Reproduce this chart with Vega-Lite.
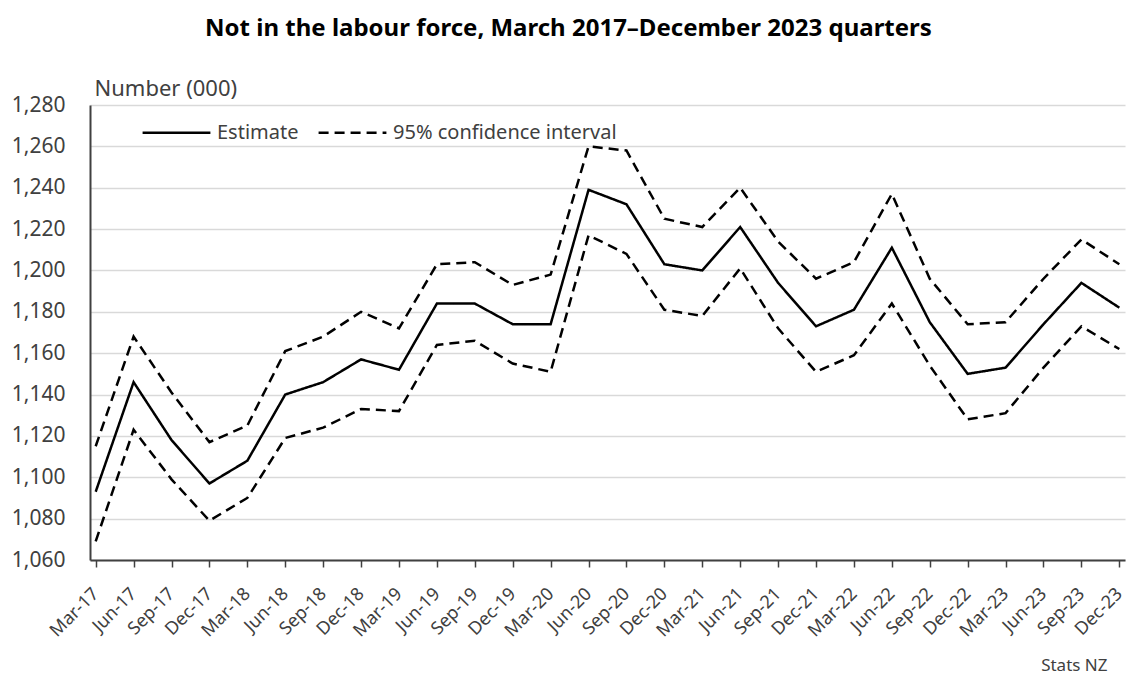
{
  "$schema": "https://vega.github.io/schema/vega-lite/v6.json",
  "autosize": "none",
  "width": 1035,
  "height": 455,
  "padding": {"left": 90, "top": 105, "right": 3, "bottom": 115},
  "background": "white",
  "config": {
    "font": "Noto Sans",
    "view": {"stroke": null}
  },
  "title": {
    "text": "Not in the labour force, March 2017\u2013December 2023 quarters",
    "font": "Noto Sans",
    "fontSize": 24,
    "fontWeight": "bold",
    "color": "#000000",
    "anchor": "middle",
    "frame": "bounds",
    "offset": 36
  },
  "data": {
    "values": [
      {"q": "Mar-17", "s": "Estimate", "t": "Estimate", "v": 1093},
      {"q": "Mar-17", "s": "Upper", "t": "95% confidence interval", "v": 1115},
      {"q": "Mar-17", "s": "Lower", "t": "95% confidence interval", "v": 1069},
      {"q": "Jun-17", "s": "Estimate", "t": "Estimate", "v": 1146},
      {"q": "Jun-17", "s": "Upper", "t": "95% confidence interval", "v": 1168},
      {"q": "Jun-17", "s": "Lower", "t": "95% confidence interval", "v": 1123},
      {"q": "Sep-17", "s": "Estimate", "t": "Estimate", "v": 1118},
      {"q": "Sep-17", "s": "Upper", "t": "95% confidence interval", "v": 1141},
      {"q": "Sep-17", "s": "Lower", "t": "95% confidence interval", "v": 1099},
      {"q": "Dec-17", "s": "Estimate", "t": "Estimate", "v": 1097},
      {"q": "Dec-17", "s": "Upper", "t": "95% confidence interval", "v": 1117},
      {"q": "Dec-17", "s": "Lower", "t": "95% confidence interval", "v": 1079},
      {"q": "Mar-18", "s": "Estimate", "t": "Estimate", "v": 1108},
      {"q": "Mar-18", "s": "Upper", "t": "95% confidence interval", "v": 1125},
      {"q": "Mar-18", "s": "Lower", "t": "95% confidence interval", "v": 1090},
      {"q": "Jun-18", "s": "Estimate", "t": "Estimate", "v": 1140},
      {"q": "Jun-18", "s": "Upper", "t": "95% confidence interval", "v": 1161},
      {"q": "Jun-18", "s": "Lower", "t": "95% confidence interval", "v": 1119},
      {"q": "Sep-18", "s": "Estimate", "t": "Estimate", "v": 1146},
      {"q": "Sep-18", "s": "Upper", "t": "95% confidence interval", "v": 1168},
      {"q": "Sep-18", "s": "Lower", "t": "95% confidence interval", "v": 1124},
      {"q": "Dec-18", "s": "Estimate", "t": "Estimate", "v": 1157},
      {"q": "Dec-18", "s": "Upper", "t": "95% confidence interval", "v": 1180},
      {"q": "Dec-18", "s": "Lower", "t": "95% confidence interval", "v": 1133},
      {"q": "Mar-19", "s": "Estimate", "t": "Estimate", "v": 1152},
      {"q": "Mar-19", "s": "Upper", "t": "95% confidence interval", "v": 1172},
      {"q": "Mar-19", "s": "Lower", "t": "95% confidence interval", "v": 1132},
      {"q": "Jun-19", "s": "Estimate", "t": "Estimate", "v": 1184},
      {"q": "Jun-19", "s": "Upper", "t": "95% confidence interval", "v": 1203},
      {"q": "Jun-19", "s": "Lower", "t": "95% confidence interval", "v": 1164},
      {"q": "Sep-19", "s": "Estimate", "t": "Estimate", "v": 1184},
      {"q": "Sep-19", "s": "Upper", "t": "95% confidence interval", "v": 1204},
      {"q": "Sep-19", "s": "Lower", "t": "95% confidence interval", "v": 1166},
      {"q": "Dec-19", "s": "Estimate", "t": "Estimate", "v": 1174},
      {"q": "Dec-19", "s": "Upper", "t": "95% confidence interval", "v": 1193},
      {"q": "Dec-19", "s": "Lower", "t": "95% confidence interval", "v": 1155},
      {"q": "Mar-20", "s": "Estimate", "t": "Estimate", "v": 1174},
      {"q": "Mar-20", "s": "Upper", "t": "95% confidence interval", "v": 1198},
      {"q": "Mar-20", "s": "Lower", "t": "95% confidence interval", "v": 1151},
      {"q": "Jun-20", "s": "Estimate", "t": "Estimate", "v": 1239},
      {"q": "Jun-20", "s": "Upper", "t": "95% confidence interval", "v": 1260},
      {"q": "Jun-20", "s": "Lower", "t": "95% confidence interval", "v": 1217},
      {"q": "Sep-20", "s": "Estimate", "t": "Estimate", "v": 1232},
      {"q": "Sep-20", "s": "Upper", "t": "95% confidence interval", "v": 1258},
      {"q": "Sep-20", "s": "Lower", "t": "95% confidence interval", "v": 1208},
      {"q": "Dec-20", "s": "Estimate", "t": "Estimate", "v": 1203},
      {"q": "Dec-20", "s": "Upper", "t": "95% confidence interval", "v": 1225},
      {"q": "Dec-20", "s": "Lower", "t": "95% confidence interval", "v": 1181},
      {"q": "Mar-21", "s": "Estimate", "t": "Estimate", "v": 1200},
      {"q": "Mar-21", "s": "Upper", "t": "95% confidence interval", "v": 1221},
      {"q": "Mar-21", "s": "Lower", "t": "95% confidence interval", "v": 1178},
      {"q": "Jun-21", "s": "Estimate", "t": "Estimate", "v": 1221},
      {"q": "Jun-21", "s": "Upper", "t": "95% confidence interval", "v": 1240},
      {"q": "Jun-21", "s": "Lower", "t": "95% confidence interval", "v": 1201},
      {"q": "Sep-21", "s": "Estimate", "t": "Estimate", "v": 1194},
      {"q": "Sep-21", "s": "Upper", "t": "95% confidence interval", "v": 1214},
      {"q": "Sep-21", "s": "Lower", "t": "95% confidence interval", "v": 1172},
      {"q": "Dec-21", "s": "Estimate", "t": "Estimate", "v": 1173},
      {"q": "Dec-21", "s": "Upper", "t": "95% confidence interval", "v": 1196},
      {"q": "Dec-21", "s": "Lower", "t": "95% confidence interval", "v": 1151},
      {"q": "Mar-22", "s": "Estimate", "t": "Estimate", "v": 1181},
      {"q": "Mar-22", "s": "Upper", "t": "95% confidence interval", "v": 1204},
      {"q": "Mar-22", "s": "Lower", "t": "95% confidence interval", "v": 1159},
      {"q": "Jun-22", "s": "Estimate", "t": "Estimate", "v": 1211},
      {"q": "Jun-22", "s": "Upper", "t": "95% confidence interval", "v": 1237},
      {"q": "Jun-22", "s": "Lower", "t": "95% confidence interval", "v": 1184},
      {"q": "Sep-22", "s": "Estimate", "t": "Estimate", "v": 1175},
      {"q": "Sep-22", "s": "Upper", "t": "95% confidence interval", "v": 1196},
      {"q": "Sep-22", "s": "Lower", "t": "95% confidence interval", "v": 1154},
      {"q": "Dec-22", "s": "Estimate", "t": "Estimate", "v": 1150},
      {"q": "Dec-22", "s": "Upper", "t": "95% confidence interval", "v": 1174},
      {"q": "Dec-22", "s": "Lower", "t": "95% confidence interval", "v": 1128},
      {"q": "Mar-23", "s": "Estimate", "t": "Estimate", "v": 1153},
      {"q": "Mar-23", "s": "Upper", "t": "95% confidence interval", "v": 1175},
      {"q": "Mar-23", "s": "Lower", "t": "95% confidence interval", "v": 1131},
      {"q": "Jun-23", "s": "Estimate", "t": "Estimate", "v": 1174},
      {"q": "Jun-23", "s": "Upper", "t": "95% confidence interval", "v": 1196},
      {"q": "Jun-23", "s": "Lower", "t": "95% confidence interval", "v": 1153},
      {"q": "Sep-23", "s": "Estimate", "t": "Estimate", "v": 1194},
      {"q": "Sep-23", "s": "Upper", "t": "95% confidence interval", "v": 1215},
      {"q": "Sep-23", "s": "Lower", "t": "95% confidence interval", "v": 1173},
      {"q": "Dec-23", "s": "Estimate", "t": "Estimate", "v": 1182},
      {"q": "Dec-23", "s": "Upper", "t": "95% confidence interval", "v": 1203},
      {"q": "Dec-23", "s": "Lower", "t": "95% confidence interval", "v": 1162}
    ]
  },
  "mark": {"type": "line", "color": "#000000", "strokeWidth": 2.5, "strokeJoin": "miter"},
  "encoding": {
    "x": {
      "field": "q",
      "type": "ordinal",
      "sort": null,
      "scale": {"type": "point", "padding": 0.15},
      "axis": {
        "title": "Stats NZ",
        "titleFont": "Noto Sans",
        "titleFontSize": 17,
        "titleFontWeight": "normal",
        "titleColor": "#404040",
        "titleAlign": "right",
        "titleBaseline": "middle",
        "titleAnchor": "end",
        "titleX": 1017,
        "titleY": 105,
        "labelAngle": -45,
        "labelAlign": "right",
        "labelBaseline": "middle",
        "labelFontSize": 18,
        "labelColor": "#404040",
        "labelPadding": 24,
        "labelOverlap": false,
        "labelBound": false,
        "labelFlush": false,
        "domainColor": "#404040",
        "domainWidth": 2,
        "tickColor": "#404040",
        "tickWidth": 1.5,
        "tickSize": 7,
        "grid": false
      }
    },
    "y": {
      "field": "v",
      "type": "quantitative",
      "scale": {"domain": [1060, 1280], "nice": false, "zero": false},
      "axis": {
        "title": "Number (000)",
        "titleFont": "Noto Sans",
        "titleFontSize": 22,
        "titleFontWeight": "normal",
        "titleColor": "#404040",
        "titleAngle": 0,
        "titleAlign": "left",
        "titleBaseline": "middle",
        "titleX": 4,
        "titleY": -17,
        "values": [1060, 1080, 1100, 1120, 1140, 1160, 1180, 1200, 1220, 1240, 1260, 1280],
        "format": ",d",
        "labelFontSize": 21,
        "labelColor": "#404040",
        "labelPadding": 25,
        "ticks": false,
        "domainColor": "#404040",
        "domainWidth": 2,
        "grid": true,
        "gridColor": "#d9d9d9",
        "gridWidth": 1.5
      }
    },
    "strokeDash": {
      "field": "t",
      "type": "nominal",
      "scale": {
        "domain": ["Estimate", "95% confidence interval"],
        "range": [[1, 0], [10, 6]]
      },
      "legend": {
        "title": null,
        "orient": "none",
        "direction": "horizontal",
        "legendX": 51,
        "legendY": -8,
        "padding": 0,
        "symbolType": "stroke",
        "symbolSize": 4600,
        "symbolStrokeColor": "#000000",
        "symbolStrokeWidth": 2.5,
        "labelFontSize": 20,
        "labelColor": "#404040",
        "labelOffset": 5,
        "labelLimit": 500,
        "columnPadding": 14
      }
    },
    "detail": {"field": "s", "type": "nominal"}
  }
}
